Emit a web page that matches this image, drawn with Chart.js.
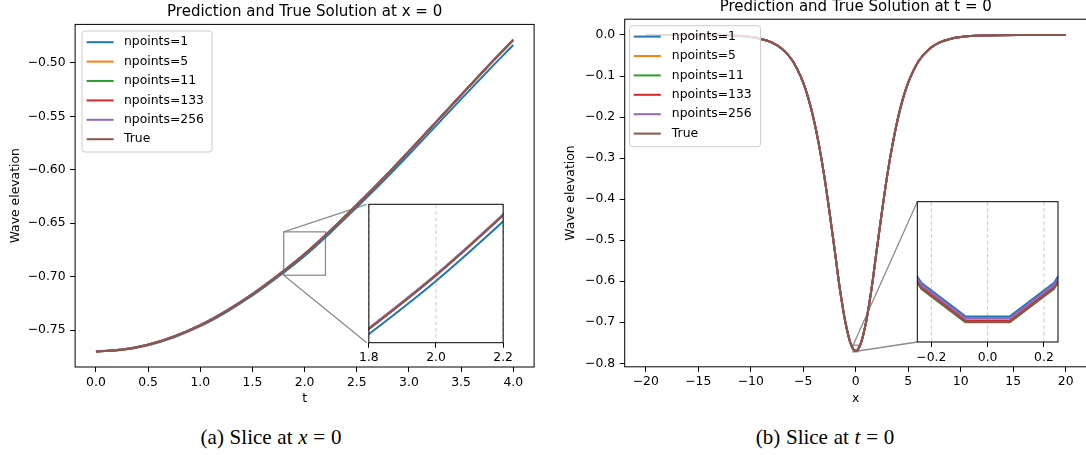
<!DOCTYPE html>
<html><head><meta charset="utf-8">
<script src="https://cdn.jsdelivr.net/npm/chart.js@4.4.1/dist/chart.umd.min.js"></script>
<style>
html,body{margin:0;padding:0;background:#fff;}
body{width:1086px;height:455px;overflow:hidden;position:relative;}
canvas{position:absolute;display:block;}
.cap{position:absolute;top:424px;font-family:"Liberation Serif","Times New Roman",serif;font-size:21px;line-height:26px;color:#000;white-space:nowrap;transform:translateX(-50%);word-spacing:0.5px;}
.cap i{font-style:italic;}
</style></head><body>
<canvas id="cA"></canvas>
<canvas id="cB"></canvas>
<canvas id="cAi"></canvas>
<canvas id="cBi"></canvas>
<div class="cap" style="left:271px">(a) Slice at <i>x</i> = 0</div>
<div class="cap" style="left:825px">(b) Slice at <i>t</i> = 0</div>
<script>
// ================= DATA =================
const seriesNames = ['npoints=1', 'npoints=5', 'npoints=11', 'npoints=133', 'npoints=256', 'True'];

// (a) slice at x = 0 : wave elevation vs t
const tValues = [0, 0.25, 0.5, 0.75, 1.0, 1.25, 1.5, 1.75, 2.0, 2.25, 2.5, 2.75, 3.0, 3.25, 3.5, 3.75, 4.0];
const tNp1   = [-0.7700, -0.7686, -0.7642, -0.7567, -0.7464, -0.7332, -0.7177, -0.6999, -0.6806, -0.6586, -0.6351, -0.6110, -0.5857, -0.5598, -0.5339, -0.5082, -0.4832];
const tNp5   = [-0.7700, -0.7684, -0.7638, -0.7560, -0.7455, -0.7321, -0.7164, -0.6984, -0.6789, -0.6567, -0.6329, -0.6084, -0.5827, -0.5564, -0.5301, -0.5039, -0.4784];
const tNp11  = [-0.7700, -0.7683, -0.7637, -0.7559, -0.7454, -0.7320, -0.7163, -0.6983, -0.6788, -0.6566, -0.6328, -0.6083, -0.5826, -0.5563, -0.5300, -0.5038, -0.4783];
const tNp133 = [-0.7700, -0.7683, -0.7637, -0.7559, -0.7454, -0.7320, -0.7163, -0.6983, -0.6788, -0.6566, -0.6328, -0.6083, -0.5826, -0.5563, -0.5300, -0.5038, -0.4783];
const tNp256 = [-0.7699, -0.7683, -0.7636, -0.7558, -0.7453, -0.7319, -0.7162, -0.6982, -0.6787, -0.6565, -0.6327, -0.6082, -0.5825, -0.5562, -0.5299, -0.5037, -0.4782];
const tTrue  = [-0.7700, -0.7684, -0.7638, -0.7561, -0.7456, -0.7322, -0.7165, -0.6985, -0.6790, -0.6568, -0.6330, -0.6085, -0.5828, -0.5565, -0.5302, -0.5040, -0.4785];

const tTicks = [0, 0.5, 1.0, 1.5, 2.0, 2.5, 3.0, 3.5, 4.0];
const tTickLabels = ['0.0', '0.5', '1.0', '1.5', '2.0', '2.5', '3.0', '3.5', '4.0'];
const etaTicksA = [-0.75, -0.70, -0.65, -0.60, -0.55, -0.50];
const etaTickLabelsA = ['\u22120.75', '\u22120.70', '\u22120.65', '\u22120.60', '\u22120.55', '\u22120.50'];
const insetTTicks = [1.8, 2.0, 2.2];
const insetTTickLabels = ['1.8', '2.0', '2.2'];

// (b) slice at t = 0 : wave elevation vs x
const xValues = [-20, -16, -12, -10, -9, -8, -7, -6, -5, -4.5, -4, -3.5, -3, -2.5, -2, -1.5, -1, -0.706, -0.549, -0.392, -0.235, -0.078,
                 0.078, 0.235, 0.392, 0.549, 0.706, 1, 1.5, 2, 2.5, 3, 3.5, 4, 4.5, 5, 6, 7, 8, 9, 10, 12, 16, 20];
const xNp1   = [0.0000, -0.0001, -0.0014, -0.0051, -0.0097, -0.0182, -0.0342, -0.0635, -0.1160, -0.1550, -0.2052, -0.2678, -0.3425, -0.4305, -0.5243, -0.6200, -0.6976, -0.7314, -0.7461, -0.7573, -0.7651, -0.7689,
                -0.7689, -0.7651, -0.7573, -0.7461, -0.7314, -0.6976, -0.6200, -0.5243, -0.4305, -0.3425, -0.2678, -0.2052, -0.1550, -0.1160, -0.0635, -0.0342, -0.0182, -0.0097, -0.0051, -0.0014, -0.0001, 0.0000];
const xNp5   = [0.0000, -0.0001, -0.0014, -0.0051, -0.0097, -0.0182, -0.0342, -0.0635, -0.1160, -0.1550, -0.2052, -0.2678, -0.3425, -0.4305, -0.5243, -0.6200, -0.6979, -0.7319, -0.7466, -0.7578, -0.7656, -0.7694,
                -0.7694, -0.7656, -0.7578, -0.7466, -0.7319, -0.6979, -0.6200, -0.5243, -0.4305, -0.3425, -0.2678, -0.2052, -0.1550, -0.1160, -0.0635, -0.0342, -0.0182, -0.0097, -0.0051, -0.0014, -0.0001, 0.0000];
const xNp11  = [0.0000, -0.0001, -0.0014, -0.0051, -0.0097, -0.0182, -0.0342, -0.0635, -0.1160, -0.1550, -0.2052, -0.2678, -0.3425, -0.4305, -0.5243, -0.6200, -0.6980, -0.73205, -0.74675, -0.75795, -0.76575, -0.76955,
                -0.76955, -0.76575, -0.75795, -0.74675, -0.73205, -0.6980, -0.6200, -0.5243, -0.4305, -0.3425, -0.2678, -0.2052, -0.1550, -0.1160, -0.0635, -0.0342, -0.0182, -0.0097, -0.0051, -0.0014, -0.0001, 0.0000];
const xNp133 = [0.0000, -0.0001, -0.0014, -0.0051, -0.0097, -0.0182, -0.0342, -0.0635, -0.1160, -0.1550, -0.2052, -0.2678, -0.3425, -0.4305, -0.5243, -0.6200, -0.6979, -0.73188, -0.74658, -0.75778, -0.76558, -0.76938,
                -0.76938, -0.76558, -0.75778, -0.74658, -0.73188, -0.6979, -0.6200, -0.5243, -0.4305, -0.3425, -0.2678, -0.2052, -0.1550, -0.1160, -0.0635, -0.0342, -0.0182, -0.0097, -0.0051, -0.0014, -0.0001, 0.0000];
const xNp256 = [0.0000, -0.0001, -0.0014, -0.0051, -0.0097, -0.0182, -0.0342, -0.0635, -0.1160, -0.1550, -0.2052, -0.2678, -0.3425, -0.4305, -0.5243, -0.6200, -0.6977, -0.7316, -0.7463, -0.7575, -0.7653, -0.7691,
                -0.7691, -0.7653, -0.7575, -0.7463, -0.7316, -0.6977, -0.6200, -0.5243, -0.4305, -0.3425, -0.2678, -0.2052, -0.1550, -0.1160, -0.0635, -0.0342, -0.0182, -0.0097, -0.0051, -0.0014, -0.0001, 0.0000];
const xTrue  = [0.0000, -0.0001, -0.0014, -0.0051, -0.0097, -0.0182, -0.0342, -0.0635, -0.1160, -0.1550, -0.2052, -0.2678, -0.3425, -0.4305, -0.5243, -0.6200, -0.6980, -0.7320, -0.7467, -0.7579, -0.7657, -0.7695,
                -0.7695, -0.7657, -0.7579, -0.7467, -0.7320, -0.6980, -0.6200, -0.5243, -0.4305, -0.3425, -0.2678, -0.2052, -0.1550, -0.1160, -0.0635, -0.0342, -0.0182, -0.0097, -0.0051, -0.0014, -0.0001, 0.0000];

const xTicksB = [-20, -15, -10, -5, 0, 5, 10, 15, 20];
const xTickLabelsB = ['\u221220', '\u221215', '\u221210', '\u22125', '0', '5', '10', '15', '20'];
const etaTicksB = [-0.8, -0.7, -0.6, -0.5, -0.4, -0.3, -0.2, -0.1, 0.0];
const etaTickLabelsB = ['\u22120.8', '\u22120.7', '\u22120.6', '\u22120.5', '\u22120.4', '\u22120.3', '\u22120.2', '\u22120.1', '0.0'];
const insetXTicks = [-0.2, 0.0, 0.2];
const insetXTickLabels = ['\u22120.2', '0.0', '0.2'];

// ================= STYLE / LAYOUT =================
const COLORS = ['#1f77b4', '#ff7f0e', '#2ca02c', '#d62728', '#9467bd', '#8c564b'];
const FONT = '"DejaVu Sans", sans-serif';
const FS = 12.4;
const TXT = '#000';

const LAY = {
  A:  { cv: [0, 0, 543, 410],    area: { l: 75.1,  t: 24.4,  r: 534.1,  b: 367 } },
  B:  { cv: [543, 0, 545, 410],  area: { l: 624.7, t: 19.2,  r: 1086.7, b: 366.8 } },
  Ai: { cv: [356, 198, 160, 172], area: { l: 366.7, t: 204.3, r: 505.3,  b: 342.7 } },
  Bi: { cv: [905, 195, 165, 175], area: { l: 917.3, t: 201.7, r: 1058,   b: 342 } }
};

Chart.defaults.font.family = FONT;
Chart.defaults.font.size = FS;
Chart.defaults.color = TXT;

function setupCanvas(id, lay) {
  const c = document.getElementById(id);
  const [x, y, w, h] = lay.cv;
  c.width = w; c.height = h;
  c.style.left = x + 'px'; c.style.top = y + 'px';
  c.style.width = w + 'px'; c.style.height = h + 'px';
  return c;
}

function makeDatasets(xs, list, o) {
  return list.map((ys, i) => ({
    label: seriesNames[i],
    data: xs.map((x, j) => ({ x: x, y: ys[j] })),
    borderColor: COLORS[i],
    backgroundColor: COLORS[i],
    borderWidth: o.lw,
    pointRadius: 0,
    pointHoverRadius: 0,
    fill: false,
    tension: 0,
    cubicInterpolationMode: o.cubic ? 'monotone' : 'default',
    borderCapStyle: 'butt',
    borderJoinStyle: 'round',
    order: list.length - i,
    clip: 0
  }));
}

function xAxisCfg(o) {
  return {
    type: 'linear', position: 'bottom', min: o.min, max: o.max, bounds: 'data',
    afterBuildTicks: s => { s.ticks = o.ticks.map(v => ({ value: v })); },
    afterFit: s => { s.height = o.height; },
    ticks: { autoSkip: false, maxRotation: 0, minRotation: 0, padding: 3, color: TXT,
             font: { family: FONT, size: FS }, callback: (v, i) => o.labels[i] },
    grid: { display: true, drawOnChartArea: false, drawTicks: true, tickLength: 5,
            tickColor: TXT, tickWidth: 1, color: TXT },
    border: { display: false },
    title: o.title ? { display: true, text: o.title, color: TXT, font: { family: FONT, size: FS },
                       padding: { top: 0, bottom: o.titlePad } } : { display: false }
  };
}

function yAxisCfg(o) {
  return {
    type: 'linear', position: 'left', min: o.min, max: o.max, bounds: 'data',
    afterBuildTicks: s => { s.ticks = o.ticks.map(v => ({ value: v })); },
    afterFit: s => { s.width = o.width; },
    ticks: { autoSkip: false, padding: 4.5, color: TXT,
             font: { family: FONT, size: FS }, callback: (v, i) => o.labels[i] },
    grid: { display: true, drawOnChartArea: false, drawTicks: true, tickLength: 5,
            tickColor: TXT, tickWidth: 1, color: TXT },
    border: { display: false },
    title: { display: true, text: o.title, color: TXT, font: { family: FONT, size: FS },
             padding: { top: o.titlePad, bottom: 0 } }
  };
}

function roundRect(ctx, x, y, w, h, r) {
  ctx.beginPath();
  ctx.moveTo(x + r, y);
  ctx.lineTo(x + w - r, y); ctx.arcTo(x + w, y, x + w, y + r, r);
  ctx.lineTo(x + w, y + h - r); ctx.arcTo(x + w, y + h, x + w - r, y + h, r);
  ctx.lineTo(x + r, y + h); ctx.arcTo(x, y + h, x, y + h - r, r);
  ctx.lineTo(x, y + r); ctx.arcTo(x, y, x + r, y, r);
  ctx.closePath();
}

function mainDecor(cfg) {
  return {
    id: 'mainDecor',
    beforeDatasetsDraw(chart) {
      const { ctx } = chart; const sx = chart.scales.x, sy = chart.scales.y;
      const x0 = sx.getPixelForValue(cfg.box[0]), x1 = sx.getPixelForValue(cfg.box[1]);
      const yLo = sy.getPixelForValue(cfg.box[2]), yHi = sy.getPixelForValue(cfg.box[3]);
      ctx.save();
      ctx.strokeStyle = '#8c8c8c'; ctx.lineWidth = 1.3;
      ctx.strokeRect(x0, yHi, x1 - x0, yLo - yHi);
      ctx.beginPath();
      ctx.moveTo(x0, yHi); ctx.lineTo(cfg.tl[0], cfg.tl[1]);
      ctx.moveTo(x0, yLo); ctx.lineTo(cfg.bl[0], cfg.bl[1]);
      ctx.stroke();
      ctx.restore();
    },
    afterDraw(chart) {
      const { ctx, chartArea: a } = chart;
      ctx.save();
      ctx.strokeStyle = TXT; ctx.lineWidth = 1;
      ctx.strokeRect(a.left, a.top, a.right - a.left, a.bottom - a.top);
      ctx.fillStyle = TXT;
      ctx.font = '15px ' + FONT;
      ctx.textAlign = 'center'; ctx.textBaseline = 'alphabetic';
      ctx.fillText(cfg.title, (a.left + a.right) / 2, a.top - 8);
      // legend
      const g = cfg.legend;
      roundRect(ctx, g.x, g.y, g.w, g.h, 3);
      ctx.fillStyle = 'rgba(255,255,255,0.8)'; ctx.fill();
      ctx.strokeStyle = '#cccccc'; ctx.lineWidth = 1; ctx.stroke();
      ctx.font = FS + 'px ' + FONT;
      ctx.textAlign = 'left'; ctx.textBaseline = 'middle';
      seriesNames.forEach((name, i) => {
        const yy = g.row0 + i * g.gap;
        ctx.strokeStyle = COLORS[i]; ctx.lineWidth = 2;
        ctx.beginPath(); ctx.moveTo(g.h0, yy); ctx.lineTo(g.h1, yy); ctx.stroke();
        ctx.fillStyle = TXT;
        ctx.fillText(name, g.tx, yy);
      });
      ctx.restore();
    }
  };
}

function insetDecor(cfg) {
  return {
    id: 'insetDecor',
    beforeDraw(chart) {
      const { ctx, chartArea: a } = chart;
      ctx.save(); ctx.fillStyle = '#fff';
      ctx.fillRect(a.left, a.top, a.right - a.left, a.bottom - a.top);
      ctx.restore();
    },
    beforeDatasetsDraw(chart) {
      const { ctx, chartArea: a } = chart; const sx = chart.scales.x;
      ctx.save();
      ctx.strokeStyle = '#c4c4c4'; ctx.lineWidth = 0.9; ctx.setLineDash([4, 2.5]);
      cfg.grid.forEach(v => {
        const px = sx.getPixelForValue(v);
        ctx.beginPath(); ctx.moveTo(px, a.top); ctx.lineTo(px, a.bottom); ctx.stroke();
      });
      ctx.restore();
    },
    afterDraw(chart) {
      const { ctx, chartArea: a } = chart;
      ctx.save(); ctx.strokeStyle = TXT; ctx.lineWidth = 1;
      ctx.strokeRect(a.left, a.top, a.right - a.left, a.bottom - a.top);
      ctx.restore();
    }
  };
}

function padFor(lay, yWidth) {
  const [cx, cy, w, h] = lay.cv; const a = lay.area;
  return { left: a.l - cx - yWidth, top: a.t - cy, right: cx + w - a.r, bottom: 0 };
}

const baseOpts = {
  responsive: false, maintainAspectRatio: false, animation: false, events: [],
  plugins: { legend: { display: false }, tooltip: { enabled: false }, title: { display: false } }
};

// ---------- (a) main ----------
(function () {
  const lay = LAY.A, ai = LAY.Ai.area;
  const yW = lay.area.l - lay.cv[0];
  new Chart(setupCanvas('cA', lay), {
    type: 'line',
    data: { datasets: makeDatasets(tValues, [tNp1, tNp5, tNp11, tNp133, tNp256, tTrue], { lw: 2, cubic: true }) },
    options: Object.assign({}, baseOpts, {
      layout: { autoPadding: false, padding: padFor(lay, yW) },
      scales: {
        x: xAxisCfg({ min: -0.2, max: 4.2, ticks: tTicks, labels: tTickLabels,
                      height: lay.cv[1] + lay.cv[3] - lay.area.b, title: 't', titlePad: 3.6 }),
        y: yAxisCfg({ min: -0.7846, max: -0.4639, ticks: etaTicksA, labels: etaTickLabelsA,
                      width: yW, title: 'Wave elevation', titlePad: 8.2 })
      }
    }),
    plugins: [mainDecor({
      title: 'Prediction and True Solution at x = 0',
      box: [1.8, 2.2, -0.6987, -0.6581],
      tl: [ai.l - lay.cv[0], ai.t - lay.cv[1]], bl: [ai.l - lay.cv[0], ai.b - lay.cv[1]],
      legend: { x: 82, y: 31, w: 130, h: 121, row0: 42.2, gap: 19.4, h0: 86.6, h1: 113.6, tx: 124 }
    })]
  });
})();

// ---------- (b) main ----------
(function () {
  const lay = LAY.B, bi = LAY.Bi.area;
  const yW = lay.area.l - lay.cv[0];
  new Chart(setupCanvas('cB', lay), {
    type: 'line',
    data: { datasets: makeDatasets(xValues, [xNp1, xNp5, xNp11, xNp133, xNp256, xTrue], { lw: 2, cubic: true }) },
    options: Object.assign({}, baseOpts, {
      layout: { autoPadding: false, padding: padFor(lay, yW) },
      scales: {
        x: xAxisCfg({ min: -22, max: 22, ticks: xTicksB, labels: xTickLabelsB,
                      height: lay.cv[1] + lay.cv[3] - lay.area.b, title: 'x', titlePad: 3.6 }),
        y: yAxisCfg({ min: -0.8085, max: 0.0385, ticks: etaTicksB, labels: etaTickLabelsB,
                      width: yW, title: 'Wave elevation', titlePad: 20.3 })
      }
    }),
    plugins: [mainDecor({
      title: 'Prediction and True Solution at t = 0',
      box: [-0.25, 0.25, -0.7718, -0.7558],
      tl: [bi.l - lay.cv[0], bi.t - lay.cv[1]], bl: [bi.l - lay.cv[0], bi.b - lay.cv[1]],
      legend: { x: 86.6, y: 25.7, w: 131, h: 121, row0: 36.6, gap: 19.4, h0: 90.7, h1: 117.8, tx: 128.8 }
    })]
  });
})();

// ---------- (a) inset ----------
(function () {
  const lay = LAY.Ai;
  new Chart(setupCanvas('cAi', lay), {
    type: 'line',
    data: { datasets: makeDatasets(tValues, [tNp1, tNp5, tNp11, tNp133, tNp256, tTrue], { lw: 2, cubic: true }) },
    options: Object.assign({}, baseOpts, {
      layout: { autoPadding: false, padding: padFor(lay, 0) },
      scales: {
        x: xAxisCfg({ min: 1.8, max: 2.2, ticks: insetTTicks, labels: insetTTickLabels,
                      height: lay.cv[1] + lay.cv[3] - lay.area.b, title: null }),
        y: { type: 'linear', display: false, min: -0.6987, max: -0.6581 }
      }
    }),
    plugins: [insetDecor({ grid: insetTTicks })]
  });
})();

// ---------- (b) inset ----------
(function () {
  const lay = LAY.Bi;
  new Chart(setupCanvas('cBi', lay), {
    type: 'line',
    data: { datasets: makeDatasets(xValues, [xNp1, xNp5, xNp11, xNp133, xNp256, xTrue], { lw: 2.2, cubic: false }) },
    options: Object.assign({}, baseOpts, {
      layout: { autoPadding: false, padding: padFor(lay, 0) },
      scales: {
        x: xAxisCfg({ min: -0.25, max: 0.25, ticks: insetXTicks, labels: insetXTickLabels,
                      height: lay.cv[1] + lay.cv[3] - lay.area.b, title: null }),
        y: { type: 'linear', display: false, min: -0.7718, max: -0.7558 }
      }
    }),
    plugins: [insetDecor({ grid: insetXTicks })]
  });
})();
</script>
</body></html>
